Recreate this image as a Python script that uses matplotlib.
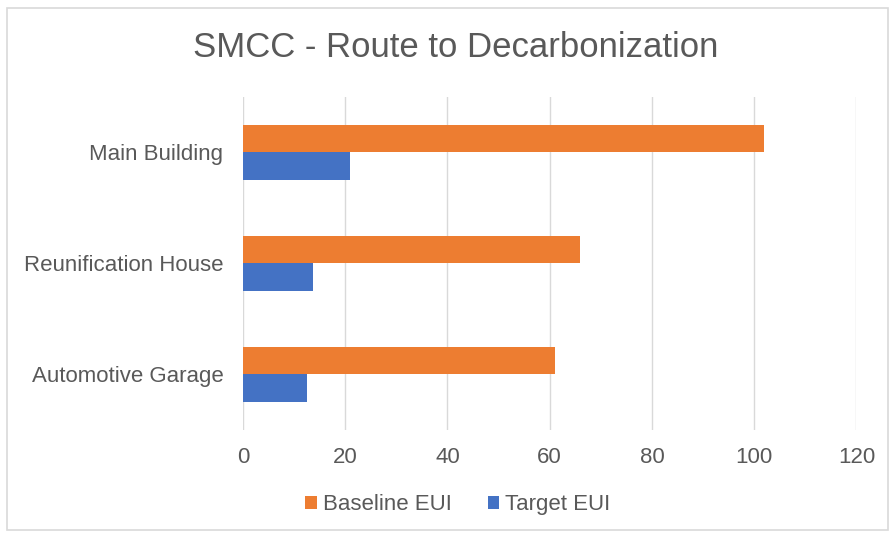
import numpy as np
import matplotlib
matplotlib.use("Agg")
from matplotlib import pyplot as plt
from matplotlib.patches import Rectangle

plt.rcParams['font.family'] = ['Liberation Sans', 'DejaVu Sans']

buildings = ["Main Building", "Reunification House", "Automotive Garage"]
baseline_eui = [102, 66, 61]
target_eui = [21, 13.7, 12.6]
xticks = [0, 20, 40, 60, 80, 100, 120]

txt = "#595959"
orange = "#ED7D31"
blue = "#4472C4"

fig = plt.figure(figsize=(8.93, 5.36), dpi=100)
ax = fig.add_axes([0.272, 0.198, 0.687, 0.621])

y = np.arange(len(buildings))
h = 0.25
ax.barh(y - h/2, baseline_eui, height=h, color=orange, label="Baseline EUI")
ax.barh(y + h/2, target_eui, height=h, color=blue, label="Target EUI")

ax.set_ylim(2.5, -0.5)
ax.set_xlim(0, 120)
ax.set_yticks(y)
ax.set_yticklabels(buildings, fontsize=16, color=txt)
ax.set_xticks(xticks)
ax.set_xticklabels([str(v) for v in xticks], fontsize=16, color=txt)
ax.tick_params(length=0)
ax.tick_params(axis='x', pad=12)
ax.tick_params(axis='y', pad=14)
ax.grid(axis='x', color="#d9d9d9", linewidth=1)
ax.set_axisbelow(True)
for s in ax.spines.values():
    s.set_visible(False)

fig.text(0.51, 0.912, "SMCC - Route to Decarbonization", ha="center", va="center",
         fontsize=25, color=txt)

leg = fig.legend(loc="center", bbox_to_anchor=(0.513, 0.058), ncol=2, frameon=False,
                 fontsize=16, handlelength=0.5, handleheight=0.5, handletextpad=0.3,
                 columnspacing=1.6)
for t in leg.get_texts():
    t.set_color(txt)

# outer chart frame
fig.add_artist(Rectangle((0.008, 0.012), 0.986, 0.973, transform=fig.transFigure,
                         fill=False, edgecolor="#d9d9d9", linewidth=1.2))

fig.savefig("out.png", dpi=100)
